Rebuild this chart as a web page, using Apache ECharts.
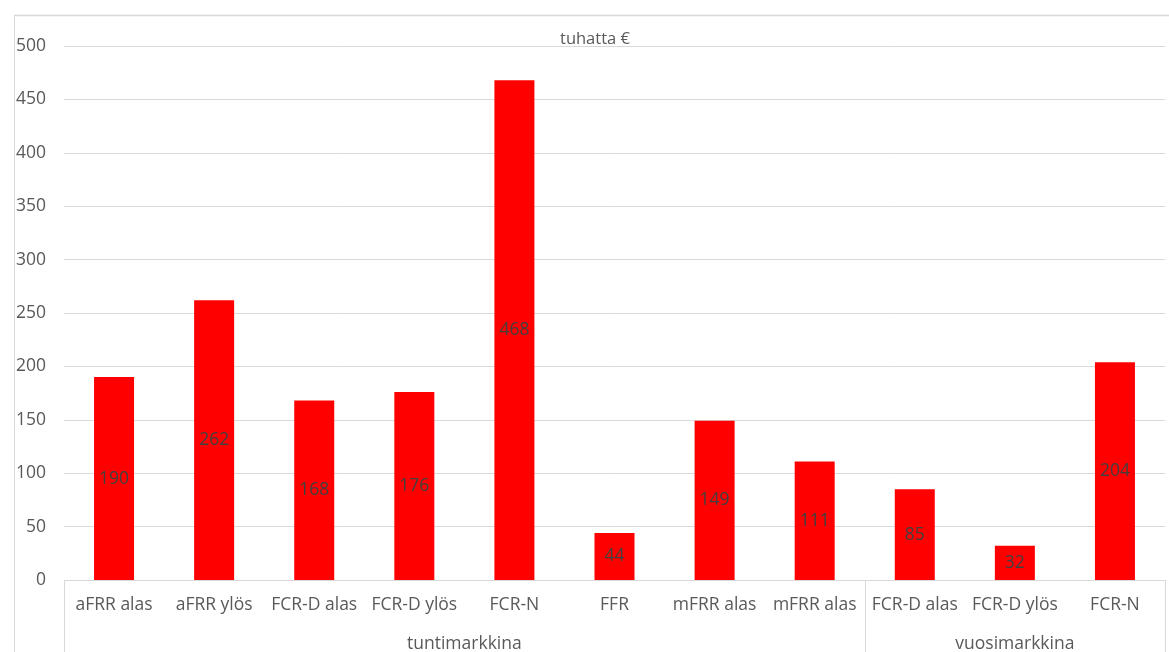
<!DOCTYPE html>
<html><head><meta charset="utf-8">
<script src="https://cdn.jsdelivr.net/npm/echarts@6/dist/echarts.min.js"></script>
<style>html,body{margin:0;padding:0;background:#fff}#c{width:1169px;height:652px}</style>
</head><body><div id="c"></div>
<script>
const categories = ['aFRR alas','aFRR ylös','FCR-D alas','FCR-D ylös','FCR-N','FFR','mFRR alas','mFRR alas','FCR-D alas','FCR-D ylös','FCR-N'];
const values = [190, 262, 168, 176, 468, 44, 149, 111, 85, 32, 204];
const groups = ['tuntimarkkina', 'vuosimarkkina'];
const groupSizes = [8, 3];
const yTicks = [0, 50, 100, 150, 200, 250, 300, 350, 400, 450, 500];
const titleText = 'tuhatta €';

const FONT = '"Open Sans", "Noto Sans", sans-serif';
const FS = 17.5;
const chart = echarts.init(document.getElementById('c'), null, {renderer: 'canvas'});
const option = {
  animation: false,
  textStyle: {fontFamily: FONT},
  title: {text: titleText, left: 555, top: 26, textStyle: {fontSize: 16.5, fontWeight: 'normal', color: '#595959', fontFamily: FONT}},
  grid: {left: 64, right: 4, top: 46, bottom: 72},
  xAxis: {
    type: 'category', data: categories,
    axisLine: {lineStyle: {color: '#d9d9d9'}},
    axisTick: {show: false},
    axisLabel: {interval: 0, fontSize: FS, color: '#595959', margin: 16, fontFamily: FONT}
  },
  yAxis: {
    type: 'value', min: yTicks[0], max: yTicks[yTicks.length - 1], interval: 50,
    axisLine: {show: false}, axisTick: {show: false},
    axisLabel: {fontSize: FS, color: '#595959', margin: 18, fontFamily: FONT},
    splitLine: {lineStyle: {color: '#d9d9d9'}}
  },
  series: [{
    type: 'bar', data: values, barWidth: 40,
    itemStyle: {color: '#ff0000'},
    label: {show: true, position: 'inside', color: '#404040', fontSize: FS, fontFamily: FONT}
  }]
};
chart.setOption(option);

// group labels and separators below the category axis
const gfx = [];
const yBase = chart.convertToPixel({yAxisIndex: 0}, 0);
const half = (chart.convertToPixel({xAxisIndex: 0}, 1) - chart.convertToPixel({xAxisIndex: 0}, 0)) / 2;
let start = 0;
const bounds = [];
groups.forEach((g, i) => {
  const end = start + groupSizes[i];
  const x0 = chart.convertToPixel({xAxisIndex: 0}, start) - half;
  const x1 = chart.convertToPixel({xAxisIndex: 0}, end - 1) + half;
  bounds.push(x0, x1);
  gfx.push({type: 'text', x: (x0 + x1) / 2, y: yBase + 64, style: {text: g, fill: '#595959', font: FS + 'px ' + FONT, textAlign: 'center', textVerticalAlign: 'middle'}});
  start = end;
});
[...new Set(bounds.map(b => Math.round(b)))].forEach(x => {
  gfx.push({type: 'line', shape: {x1: x + 0.5, y1: yBase, x2: x + 0.5, y2: 652}, style: {stroke: '#d9d9d9', lineWidth: 1}});
});
// sheet frame lines
gfx.push({type: 'line', shape: {x1: 14, y1: 15.5, x2: 1169, y2: 15.5}, style: {stroke: '#d9d9d9', lineWidth: 1.5}});
gfx.push({type: 'line', shape: {x1: 14.5, y1: 15, x2: 14.5, y2: 652}, style: {stroke: '#d9d9d9', lineWidth: 1}});
chart.setOption({graphic: gfx});
</script></body></html>
